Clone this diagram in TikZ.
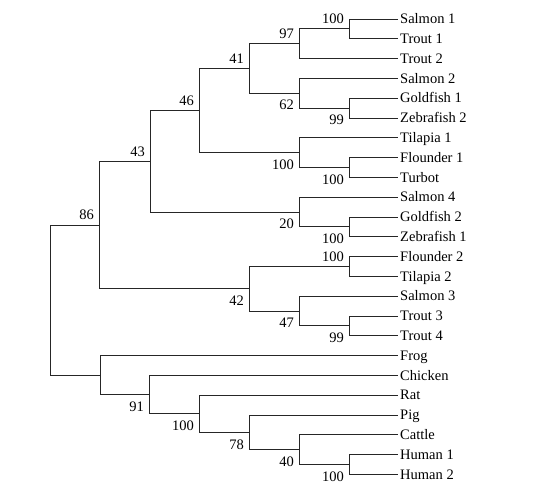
\documentclass[tikz,border=0pt]{standalone}
\usepackage{fontspec}
\setmainfont{Liberation Serif}
\usepackage{tikz}
\usetikzlibrary{positioning}

\begin{document}
\begin{tikzpicture}[
    x=1pt, y=-1pt,
    every node/.style={font=\fontsize{14.5}{16}\selectfont},
    leaf/.style={anchor=west, inner sep=2pt, text height=9.5pt, text depth=0pt},
    upper/.style={anchor=south east, inner sep=0pt, text height=9.5pt, text depth=0pt,
                  xshift=-5pt, yshift=5pt},
    lower/.style={anchor=north east, inner sep=0pt, text height=9.5pt, text depth=0pt,
                  xshift=-5pt, yshift=-7pt},
    branch/.style={line width=0.9pt, black!85}
]
\useasboundingbox (0,0) rectangle (546,494);

% leaves
\node[leaf] (salmonA) at (398,19.0)  {Salmon 1};
\node[leaf] (troutA)  at (398,38.8)  {Trout 1};
\node[leaf] (troutB)  at (398,58.6)  {Trout 2};
\node[leaf] (salmonB) at (398,78.4)  {Salmon 2};
\node[leaf] (goldA)   at (398,98.2)  {Goldfish 1};
\node[leaf] (zebraB)  at (398,118.0) {Zebrafish 2};
\node[leaf] (tilA)    at (398,137.8) {Tilapia 1};
\node[leaf] (floA)    at (398,157.6) {Flounder 1};
\node[leaf] (turbot)  at (398,177.4) {Turbot};
\node[leaf] (salmonD) at (398,197.2) {Salmon 4};
\node[leaf] (goldB)   at (398,217.0) {Goldfish 2};
\node[leaf] (zebraA)  at (398,236.8) {Zebrafish 1};
\node[leaf] (floB)    at (398,256.6) {Flounder 2};
\node[leaf] (tilB)    at (398,276.4) {Tilapia 2};
\node[leaf] (salmonC) at (398,296.2) {Salmon 3};
\node[leaf] (troutC)  at (398,316.0) {Trout 3};
\node[leaf] (troutD)  at (398,335.8) {Trout 4};
\node[leaf] (frog)    at (398,355.6) {Frog};
\node[leaf] (chicken) at (398,375.4) {Chicken};
\node[leaf] (rat)     at (398,395.2) {Rat};
\node[leaf] (pig)     at (398,415.0) {Pig};
\node[leaf] (cattle)  at (398,434.8) {Cattle};
\node[leaf] (humA)    at (398,454.6) {Human 1};
\node[leaf] (humB)    at (398,474.4) {Human 2};

% internal nodes
\coordinate (st) at (349,28.9);
\coordinate (stt) at (299,43.75);
\coordinate (gz) at (349,108.1);
\coordinate (sgz) at (299,93.25);
\coordinate (salm) at (249,68.5);
\coordinate (ft) at (349,167.5);
\coordinate (tft) at (299,152.65);
\coordinate (grpA) at (199,110.6);
\coordinate (gzB) at (349,226.9);
\coordinate (sgzB) at (299,212.05);
\coordinate (grpB) at (150,161.3);
\coordinate (flt) at (349,266.5);
\coordinate (tt) at (349,325.9);
\coordinate (stt2) at (299,311.05);
\coordinate (grpC) at (249,288.8);
\coordinate (fish) at (99,225.05);
\coordinate (hh) at (349,464.5);
\coordinate (chh) at (299,449.65);
\coordinate (pchh) at (249,432.3);
\coordinate (mam) at (199,413.75);
\coordinate (amn) at (149,394.6);
\coordinate (tet) at (100,375.1);
\coordinate (root) at (50,300.1);

% branches
\draw[branch] (st) |- (salmonA.west);
\draw[branch] (st) |- (troutA.west);
\draw[branch] (stt) |- (st);
\draw[branch] (stt) |- (troutB.west);
\draw[branch] (gz) |- (goldA.west);
\draw[branch] (gz) |- (zebraB.west);
\draw[branch] (sgz) |- (salmonB.west);
\draw[branch] (sgz) |- (gz);
\draw[branch] (salm) |- (stt);
\draw[branch] (salm) |- (sgz);
\draw[branch] (ft) |- (floA.west);
\draw[branch] (ft) |- (turbot.west);
\draw[branch] (tft) |- (tilA.west);
\draw[branch] (tft) |- (ft);
\draw[branch] (grpA) |- (salm);
\draw[branch] (grpA) |- (tft);
\draw[branch] (gzB) |- (goldB.west);
\draw[branch] (gzB) |- (zebraA.west);
\draw[branch] (sgzB) |- (salmonD.west);
\draw[branch] (sgzB) |- (gzB);
\draw[branch] (grpB) |- (grpA);
\draw[branch] (grpB) |- (sgzB);
\draw[branch] (flt) |- (floB.west);
\draw[branch] (flt) |- (tilB.west);
\draw[branch] (tt) |- (troutC.west);
\draw[branch] (tt) |- (troutD.west);
\draw[branch] (stt2) |- (salmonC.west);
\draw[branch] (stt2) |- (tt);
\draw[branch] (grpC) |- (flt);
\draw[branch] (grpC) |- (stt2);
\draw[branch] (fish) |- (grpB);
\draw[branch] (fish) |- (grpC);
\draw[branch] (hh) |- (humA.west);
\draw[branch] (hh) |- (humB.west);
\draw[branch] (chh) |- (cattle.west);
\draw[branch] (chh) |- (hh);
\draw[branch] (pchh) |- (pig.west);
\draw[branch] (pchh) |- (chh);
\draw[branch] (mam) |- (rat.west);
\draw[branch] (mam) |- (pchh);
\draw[branch] (amn) |- (chicken.west);
\draw[branch] (amn) |- (mam);
\draw[branch] (tet) |- (frog.west);
\draw[branch] (tet) |- (amn);
\draw[branch] (root) |- (fish);
\draw[branch] (root) |- (tet);

% bootstrap values
\node[upper] (bst) at (st) {100};
\node[upper] (bstt) at (stt) {97};
\node[lower] (bgz) at (gz) {99};
\node[lower] (bsgz) at (sgz) {62};
\node[upper] (bsalm) at (salm) {41};
\node[lower] (bft) at (ft) {100};
\node[lower] (btft) at (tft) {100};
\node[upper] (bgrpA) at (grpA) {46};
\node[lower] (bgzB) at (gzB) {100};
\node[lower] (bsgzB) at (sgzB) {20};
\node[upper] (bgrpB) at (grpB) {43};
\node[upper] (bflt) at (flt) {100};
\node[lower] (btt) at (tt) {99};
\node[lower] (bstt2) at (stt2) {47};
\node[lower] (bgrpC) at (grpC) {42};
\node[upper] (bfish) at (fish) {86};
\node[lower] (bhh) at (hh) {100};
\node[lower] (bchh) at (chh) {40};
\node[lower] (bpchh) at (pchh) {78};
\node[lower] (bmam) at (mam) {100};
\node[lower] (bamn) at (amn) {91};
\end{tikzpicture}
\end{document}
